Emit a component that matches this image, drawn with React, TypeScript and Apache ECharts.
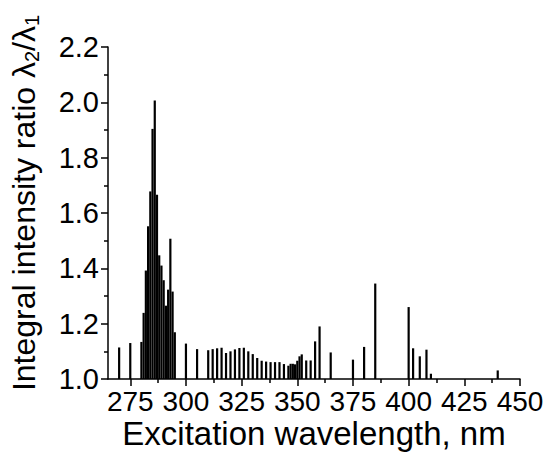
import React, { useEffect, useRef } from "react";
import * as echarts from "echarts";

// Excitation wavelengths (nm) and integral intensity ratio values
const wavelengths: number[] = [
  270, 275, 280, 281, 282, 283, 284, 285, 286, 287, 288, 289, 290, 291, 292, 293, 294, 295,
  300, 305, 310, 312, 314, 316, 318, 320, 322, 324, 326, 328, 330, 332, 334, 336, 338, 340,
  342, 344, 346, 347, 348, 349, 350, 351, 352, 354, 356, 358, 360, 365, 375, 380, 385, 400,
  402, 405, 408, 410, 440,
];
const ratios: number[] = [
  1.114, 1.13, 1.134, 1.239, 1.392, 1.552, 1.678, 1.904, 2.007, 1.666, 1.447, 1.41, 1.357, 1.265, 1.323, 1.507, 1.316, 1.169,
  1.128, 1.108, 1.104, 1.108, 1.111, 1.113, 1.094, 1.1, 1.107, 1.112, 1.113, 1.1, 1.09, 1.076, 1.066, 1.063, 1.061, 1.061,
  1.061, 1.054, 1.048, 1.055, 1.055, 1.053, 1.066, 1.082, 1.089, 1.067, 1.067, 1.136, 1.19, 1.096, 1.07, 1.116, 1.345, 1.26,
  1.111, 1.082, 1.106, 1.019, 1.031,
];
const xMajorTicks: number[] = [275, 300, 325, 350, 375, 400, 425, 450];
const xMinorTicks: number[] = [287.5, 312.5, 337.5, 362.5, 387.5, 412.5, 437.5];
const X_MIN = 265;
const X_MAX = 450;
const Y_MIN = 1.0;
const Y_MAX = 2.2;
const Y_STEP = 0.2;

const FONT = "'Liberation Sans', Arial, Helvetica, sans-serif";

export default function App() {
  const ref = useRef<HTMLDivElement>(null);
  useEffect(() => {
    if (!ref.current) return;
    const chart = echarts.init(ref.current, undefined, { renderer: "svg" });
    const data = wavelengths.map((w, i) => [w, ratios[i]]);
    const BAR_W = 2.2;
    const option: any = {
      animation: false,
      backgroundColor: "#ffffff",
      grid: { left: 108, right: 26, top: 47, bottom: 73, containLabel: false, outerBoundsMode: "none" },
      xAxis: [
        {
          type: "value",
          min: X_MIN,
          max: X_MAX,
          name: "Excitation wavelength, nm",
          nameLocation: "middle",
          nameGap: 38,
          nameMoveOverlap: false,
          nameTextStyle: { fontSize: 33, color: "#000", fontFamily: FONT, lineHeight: 33 },
          axisLine: { show: true, onZero: false, lineStyle: { color: "#000", width: 1.5 } },
          axisTick: { show: true, customValues: xMajorTicks, length: 7, lineStyle: { color: "#000", width: 1.5 } },
          axisLabel: { show: true, customValues: xMajorTicks, fontSize: 28, color: "#000", fontFamily: FONT, margin: 8 },
          splitLine: { show: false },
        },
        {
          type: "value",
          min: X_MIN,
          max: X_MAX,
          position: "bottom",
          axisLine: { show: false },
          axisTick: { show: true, customValues: xMinorTicks, length: 4, lineStyle: { color: "#000", width: 1.5 } },
          axisLabel: { show: false },
          splitLine: { show: false },
        },
      ],
      yAxis: {
        type: "value",
        min: Y_MIN,
        max: Y_MAX,
        interval: Y_STEP,
        name: "{a|Integral intensity ratio λ}{s|2}{a|/λ}{s|1}",
        nameLocation: "middle",
        nameRotate: 90,
        nameGap: 66,
        nameTextStyle: {
          fontSize: 32,
          color: "#000",
          fontFamily: FONT,
          padding: [0, 0, 0, 20],
          rich: {
            a: { fontSize: 32, fontFamily: FONT, color: "#000", lineHeight: 36, verticalAlign: "middle" },
            s: { fontSize: 20, fontFamily: FONT, color: "#000", lineHeight: 20, verticalAlign: "bottom" },
          },
        },
        axisLine: { show: true, lineStyle: { color: "#000", width: 1.5 } },
        axisTick: { show: true, length: 7, lineStyle: { color: "#000", width: 1.5 } },
        minorTick: { show: true, splitNumber: 2, length: 4, lineStyle: { color: "#000", width: 1.5 } },
        axisLabel: {
          fontSize: 29,
          color: "#000",
          fontFamily: FONT,
          margin: 9,
          formatter: (v: number) => v.toFixed(1),
        },
        splitLine: { show: false },
        minorSplitLine: { show: false },
      },
      series: [
        {
          type: "custom",
          xAxisIndex: 0,
          yAxisIndex: 0,
          encode: { x: 0, y: 1 },
          data,
          clip: true,
          renderItem: (_params: any, api: any) => {
            const x = api.value(0);
            const y = api.value(1);
            const top = api.coord([x, y]);
            const base = api.coord([x, Y_MIN]);
            return {
              type: "rect",
              shape: { x: top[0] - BAR_W / 2, y: top[1], width: BAR_W, height: base[1] - top[1] },
              style: { fill: "#000" },
            };
          },
        },
      ],
    };
    chart.setOption(option);
    return () => chart.dispose();
  }, []);
  return (
    <div
      ref={ref}
      style={{ position: "fixed", left: 0, top: 0, width: 546, height: 452, background: "#fff" }}
    />
  );
}
